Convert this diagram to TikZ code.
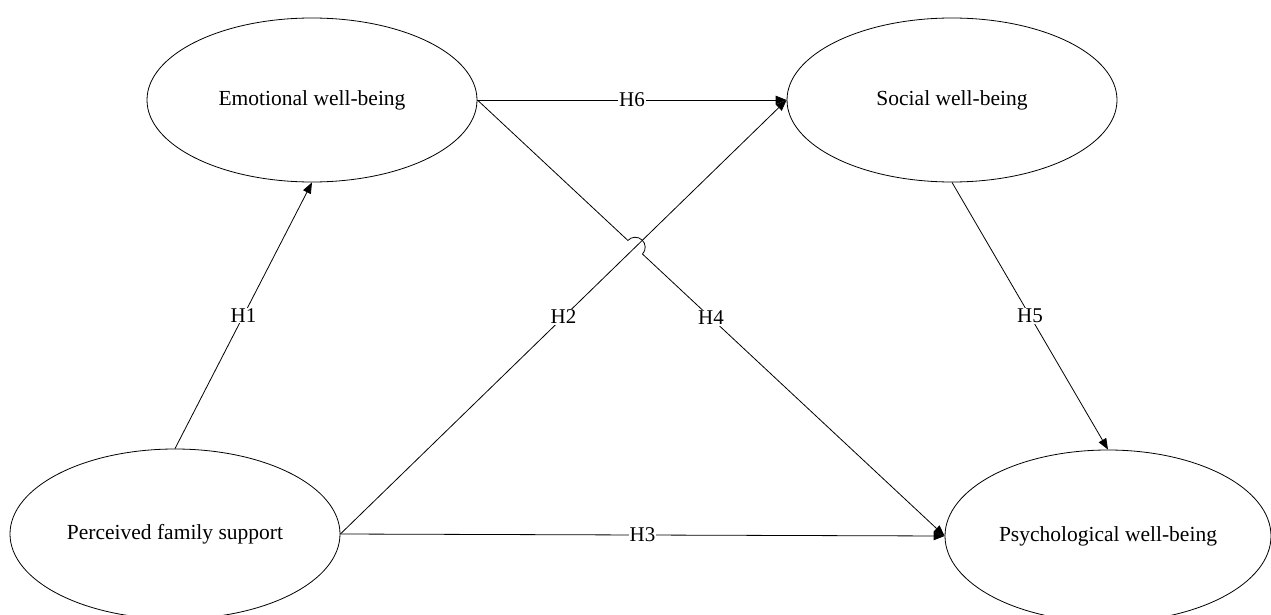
\documentclass[tikz,border=0pt]{standalone}
\usepackage{fontspec}
\setmainfont{Liberation Serif}
\usetikzlibrary{arrows.meta,calc,shapes.geometric}
\begin{document}
\begin{tikzpicture}[x=1pt,y=1pt,
  latent/.style={ellipse,draw,line width=0.8pt,minimum width=330pt,minimum height=164pt,inner sep=0pt,font=\fontsize{21.5}{25}\selectfont},
  pathline/.style={line width=0.8pt,-{Triangle[length=11pt,width=8.5pt]}},
  hlab/.style={fill=white,inner sep=1pt,font=\fontsize{21}{25}\selectfont}]
\useasboundingbox (0,0) rectangle (1271,-615);
\clip (0,0) rectangle (1271,-615);
\node[latent] (E) at (312,-100) {Emotional well-being};
\node[latent] (S) at (952,-100) {Social well-being};
\node[latent,minimum height=170pt] (F) at (175,-534) {Perceived family support};
\node[latent,minimum height=172pt,minimum width=326pt] (P) at (1108,-536) {Psychological well-being};
% H1
\draw[pathline] (F.north) -- (E.south) node[hlab,midway] {H1};
% H2
\draw[pathline] (F.east) -- (S.west) node[hlab,midway] {H2};
% H3
\draw[pathline] (F.east) -- (P.west) node[hlab,midway] {H3};
% H6
\draw[pathline] (E.east) -- (S.west) node[hlab,midway] {H6};
% H5
\draw[pathline] (S.south) -- (P.north) node[hlab,midway] {H5};
% H4 with line jump over H2
\coordinate (X) at (intersection of E.east--P.west and F.east--S.west);
\draw[pathline] (E.east) -- ($(X)!10pt!(E.east)$)
  let \p1=($(E.east)-(X)$), \n1={atan2(\y1,\x1)} in
  arc[start angle=\n1, end angle=\n1-180, radius=10pt] -- (P.west);
\path (E.east) -- (P.west) node[hlab,midway] {H4};
\end{tikzpicture}
\end{document}
